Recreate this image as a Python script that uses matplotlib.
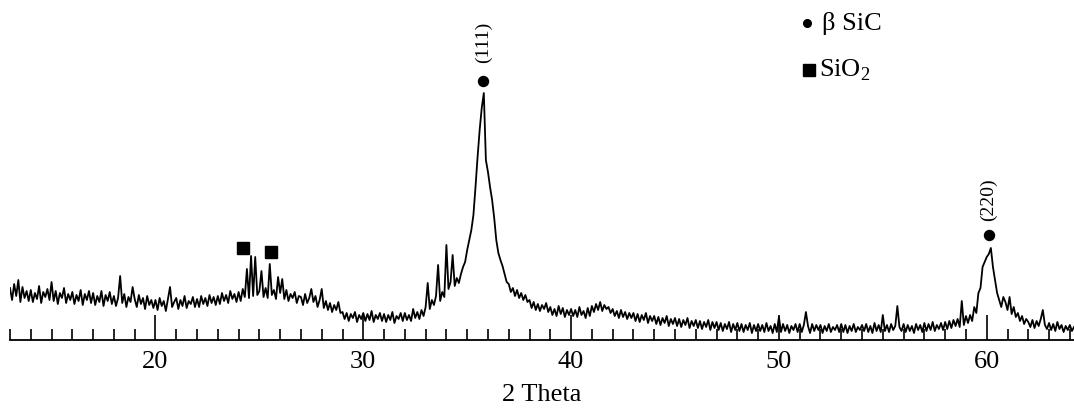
import numpy as np
import matplotlib
matplotlib.use("Agg")
import matplotlib.pyplot as plt
from matplotlib.ticker import MultipleLocator

plt.rcParams['font.family'] = ['Liberation Serif', 'DejaVu Serif']
plt.rcParams['mathtext.fontset'] = 'custom'
plt.rcParams['mathtext.rm'] = 'Liberation Serif'

# 2-theta grid start / step (degrees) and intensities (arbitrary units), one row per degree
theta_start = 13.0
theta_step = 0.1
intensity_rows = [
    [52, 40, 56, 44, 60, 38, 53, 42, 49, 39],   # 13
    [50, 38, 47, 41, 54, 37, 48, 43, 51, 40],   # 14
    [58, 39, 49, 36, 47, 42, 52, 37, 46, 40],   # 15
    [48, 36, 45, 39, 50, 35, 46, 40, 49, 37],   # 16
    [47, 35, 44, 38, 49, 34, 45, 39, 48, 36],   # 17
    [44, 34, 42, 64, 37, 46, 33, 43, 38, 53],   # 18
    [41, 33, 45, 36, 42, 31, 44, 35, 40, 32],   # 19
    [40, 30, 42, 34, 39, 29, 41, 53, 33, 38],   # 20
    [42, 31, 40, 34, 44, 32, 39, 36, 43, 33],   # 21
    [41, 33, 44, 36, 42, 34, 45, 37, 43, 35],   # 22
    [44, 36, 47, 39, 45, 37, 49, 41, 46, 38],   # 23
    [48, 39, 51, 43, 71, 42, 84, 44, 83, 45],   # 24
    [49, 69, 43, 52, 42, 76, 45, 50, 41, 63],   # 25
    [47, 61, 41, 50, 39, 46, 42, 48, 37, 44],   # 26
    [43, 35, 46, 37, 42, 51, 38, 44, 33, 40],   # 27
    [51, 32, 39, 30, 37, 28, 35, 30, 38, 27],   # 28
    [28, 21, 27, 19, 26, 22, 28, 18, 25, 21],   # 29
    [27, 19, 26, 20, 29, 18, 25, 21, 27, 19],   # 30
    [26, 18, 25, 20, 28, 17, 24, 21, 27, 19],   # 31
    [27, 20, 25, 19, 31, 22, 28, 21, 30, 24],   # 32
    [33, 57, 31, 40, 35, 44, 75, 39, 48, 43],   # 33
    [95, 51, 58, 85, 54, 62, 57, 66, 73, 78],   # 34
    [90, 100, 110, 125, 153, 183, 210, 232, 247, 180],  # 35
    [168, 153, 140, 122, 100, 87, 80, 74, 66, 58],      # 36
    [56, 48, 52, 44, 50, 42, 47, 40, 45, 38],   # 37
    [40, 32, 38, 30, 36, 29, 35, 31, 37, 28],   # 38
    [33, 25, 31, 24, 34, 26, 32, 23, 30, 25],   # 39
    [31, 24, 30, 23, 33, 25, 29, 22, 32, 24],   # 40
    [34, 28, 36, 30, 38, 29, 35, 31, 33, 27],   # 41
    [31, 24, 29, 22, 30, 23, 28, 21, 27, 22],   # 42
    [27, 19, 26, 18, 25, 20, 27, 17, 24, 19],   # 43
    [24, 16, 23, 15, 22, 17, 24, 14, 21, 16],   # 44
    [22, 14, 21, 13, 20, 15, 22, 12, 19, 14],   # 45
    [20, 12, 19, 11, 18, 13, 20, 10, 18, 12],   # 46
    [18, 10, 17, 9, 16, 11, 18, 8, 16, 10],     # 47
    [17, 9, 16, 8, 15, 10, 17, 7, 15, 9],       # 48
    [16, 9, 15, 8, 17, 9, 14, 7, 16, 8],        # 49
    [23, 8, 16, 9, 15, 7, 14, 10, 16, 8],       # 50
    [16, 8, 15, 28, 14, 7, 16, 9, 15, 10],      # 51
    [15, 7, 14, 9, 16, 8, 13, 10, 15, 8],       # 52
    [16, 8, 15, 7, 14, 9, 16, 8, 13, 10],       # 53
    [15, 9, 16, 8, 14, 7, 17, 9, 15, 8],        # 54
    [25, 9, 15, 8, 16, 10, 14, 34, 13, 9],      # 55
    [16, 8, 15, 9, 14, 7, 16, 10, 15, 8],       # 56
    [17, 9, 16, 10, 18, 9, 15, 11, 17, 10],     # 57
    [18, 11, 19, 12, 20, 14, 21, 13, 39, 15],   # 58
    [24, 17, 25, 19, 33, 27, 47, 52, 73, 78],   # 59
    [83, 86, 92, 73, 60, 47, 40, 33, 43, 38],   # 60
    [30, 43, 26, 33, 23, 27, 19, 24, 16, 21],   # 61
    [18, 13, 20, 12, 19, 14, 21, 30, 15, 11],   # 62
    [17, 10, 16, 9, 18, 11, 15, 8, 14, 10],     # 63
    [15, 9, 13],                                # 64
]

# phase markers
sic_peaks_x = [35.78, 60.09]
sic_peaks_y = [259, 105]
sic_labels = ["(111)", "(220)"]
sic_label_y = [298, 140]
sio2_x = [24.23, 25.58]
sio2_y = [92, 88]

intensity = np.concatenate([np.array(r, dtype=float) for r in intensity_rows])
theta = theta_start + theta_step * np.arange(len(intensity))

fig = plt.figure(figsize=(10.74, 4.16), dpi=100)
ax = fig.add_axes([10 / 1074, 76 / 416, 1064 / 1074, 340 / 416])
ax.plot(theta, intensity, color='black', lw=1.3)

ax.set_xlim(13.0, 64.2)
ax.set_ylim(0, 340)
for s in ['top', 'left', 'right']:
    ax.spines[s].set_visible(False)
ax.spines['bottom'].set_linewidth(1.3)
ax.set_yticks([])
ax.xaxis.set_major_locator(MultipleLocator(10))
ax.xaxis.set_minor_locator(MultipleLocator(1))
ax.tick_params(axis='x', which='major', direction='in', length=18, width=1.2,
               labelsize=19, pad=8)
ax.tick_params(axis='x', which='minor', direction='in', length=8, width=1.2)
ax.set_xlabel("2 Theta", fontsize=19, labelpad=8)
ax.patch.set_alpha(0)

ax.plot(sic_peaks_x, sic_peaks_y, 'o', color='black', ms=7.2)
for x, yl, lab in zip(sic_peaks_x, sic_label_y, sic_labels):
    ax.text(x, yl, lab, rotation=90, ha='center', va='center', fontsize=14)
ax.plot(sio2_x, sio2_y, 's', color='black', ms=8.6)

# legend
ax.plot([0.749], [0.932], 'o', color='black', ms=5.5, transform=ax.transAxes, clip_on=False)
ax.text(0.763, 0.932, "β SiC", transform=ax.transAxes, fontsize=19, va='center', ha='left')
ax.plot([0.751], [0.794], 's', color='black', ms=8, transform=ax.transAxes, clip_on=False)
ax.text(0.760, 0.794, "SiO$_\\mathrm{2}$", transform=ax.transAxes, fontsize=19, va='center', ha='left')

fig.savefig("out.png", dpi=100)
